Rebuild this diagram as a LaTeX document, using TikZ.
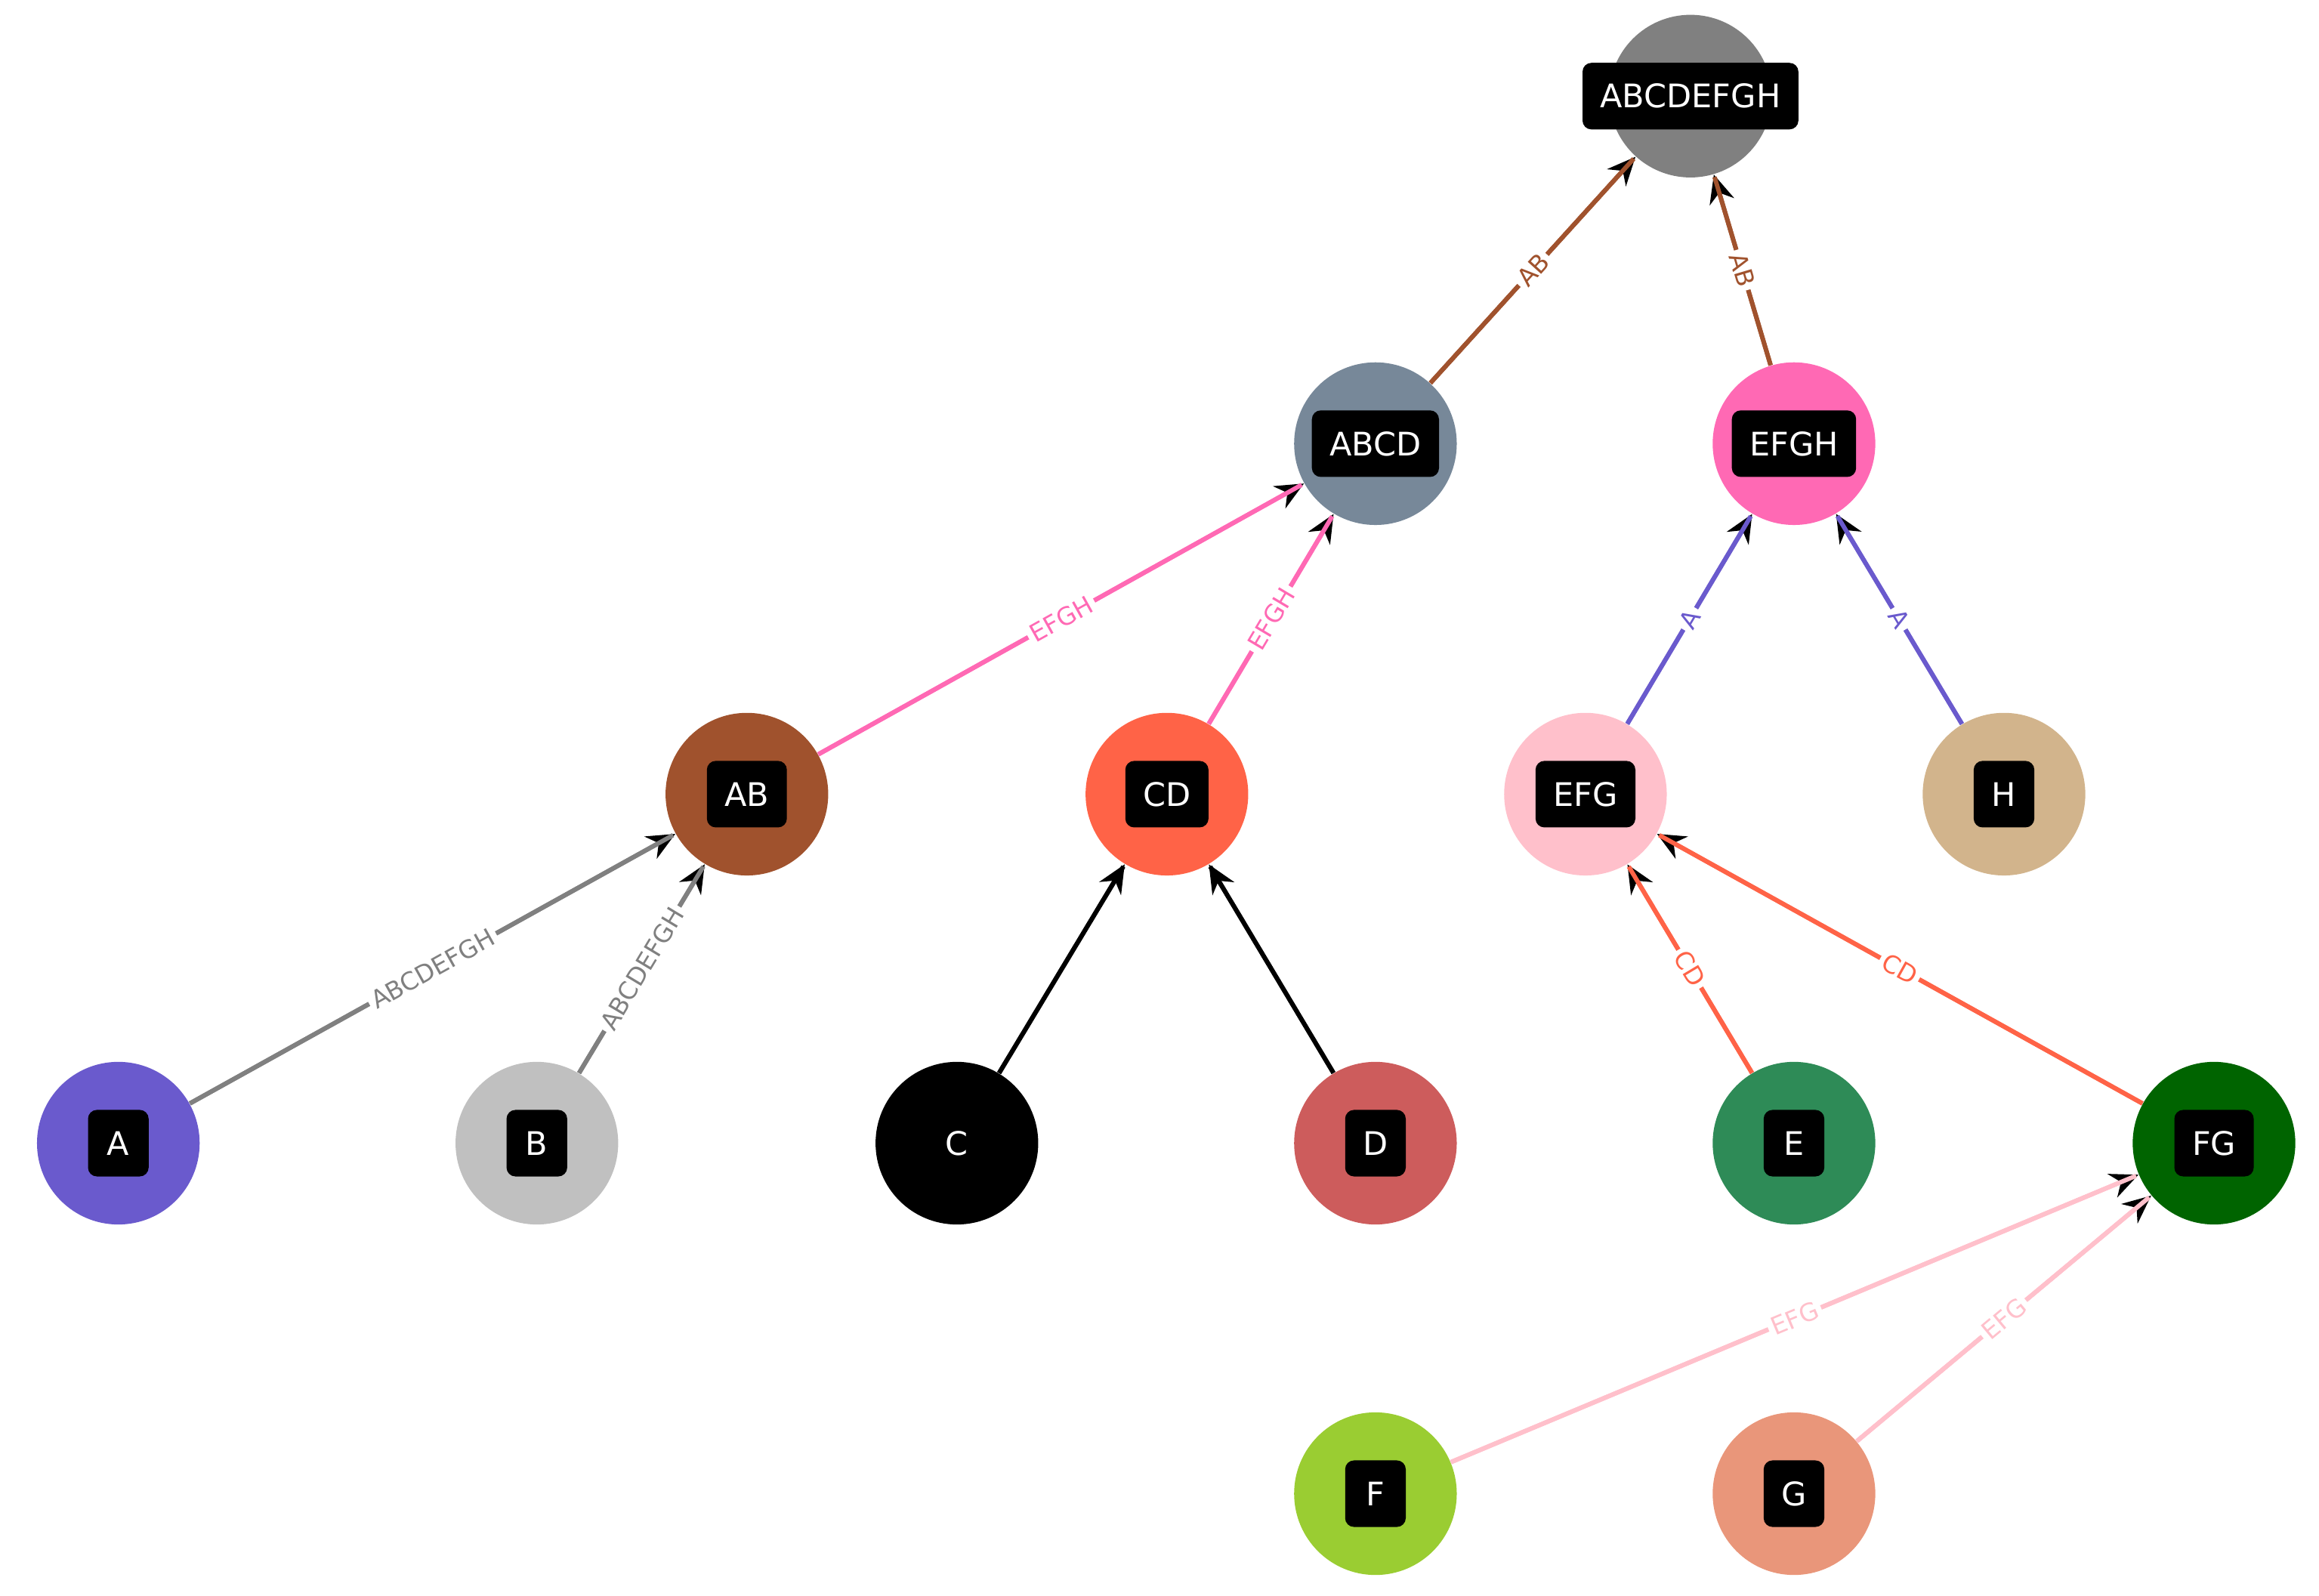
\documentclass[tikz,border=0pt]{standalone}
\usepackage{fontspec}
\setmainfont{DejaVu Sans}
\usetikzlibrary{arrows.meta}
\definecolor{cGray}{RGB}{128,128,128}
\definecolor{cSlateGray}{RGB}{119,136,153}
\definecolor{cHotPink}{RGB}{255,105,180}
\definecolor{cSienna}{RGB}{160,82,45}
\definecolor{cTomato}{RGB}{255,99,71}
\definecolor{cPink}{RGB}{255,192,203}
\definecolor{cTan}{RGB}{210,180,140}
\definecolor{cSlateBlue}{RGB}{106,90,205}
\definecolor{cSilver}{RGB}{192,192,192}
\definecolor{cIndianRed}{RGB}{205,92,92}
\definecolor{cSeaGreen}{RGB}{46,139,87}
\definecolor{cDarkGreen}{RGB}{0,100,0}
\definecolor{cYellowGreen}{RGB}{154,205,50}
\definecolor{cDarkSalmon}{RGB}{233,150,122}
\tikzset{
  nd/.style={circle,fill=#1,minimum size=2.2cm,inner sep=0pt},
  tx/.style={fill=black,text=white,rounded corners=0.12cm,font=\fontsize{12.5}{14}\selectfont,inner xsep=0.24cm,inner ysep=0.17cm,minimum height=0.9cm,minimum width=0.82cm},
  e/.style={draw=#1,line width=0.06cm,-{Stealth[length=0.38cm,width=0.34cm,black]},
    postaction={draw=#1,line width=0.06cm,-,shorten >=1pt}},
  lbl/.style={sloped,fill=white,inner sep=1.5pt,font=\fontsize{9.5}{11}\selectfont,text=#1},
}
\begin{document}
\begin{tikzpicture}[x=0.02cm,y=-0.02cm]
\useasboundingbox (0,0) rectangle (1568,1079);
\node[nd=cGray] (ABCDEFGH) at (1143,65) {};
\node[nd=cSlateGray] (ABCD) at (930,300) {};
\node[nd=cHotPink] (EFGH) at (1213,300) {};
\node[nd=cSienna] (AB) at (505,537) {};
\node[nd=cTomato] (CD) at (789,537) {};
\node[nd=cPink] (EFG) at (1072,537) {};
\node[nd=cTan] (H) at (1355,537) {};
\node[nd=cSlateBlue] (A) at (80,773) {};
\node[nd=cSilver] (B) at (363,773) {};
\node[nd=black] (C) at (647,773) {};
\node[nd=cIndianRed] (D) at (930,773) {};
\node[nd=cSeaGreen] (E) at (1213,773) {};
\node[nd=cDarkGreen] (FG) at (1497,773) {};
\node[nd=cYellowGreen] (F) at (930,1010) {};
\node[nd=cDarkSalmon] (G) at (1213,1010) {};

\draw[e=cSienna] (ABCD) -- node[lbl=cSienna]{AB} (ABCDEFGH);
\draw[e=cSienna] (EFGH) -- node[lbl=cSienna]{AB} (ABCDEFGH);
\draw[e=cHotPink] (AB) -- node[lbl=cHotPink]{EFGH} (ABCD);
\draw[e=cHotPink] (CD) -- node[lbl=cHotPink]{EFGH} (ABCD);
\draw[e=cSlateBlue] (EFG) -- node[lbl=cSlateBlue]{A} (EFGH);
\draw[e=cSlateBlue] (H) -- node[lbl=cSlateBlue]{A} (EFGH);
\draw[e=cGray] (A) -- node[lbl=cGray]{ABCDEFGH} (AB);
\draw[e=cGray] (B) -- node[lbl=cGray]{ABCDEFGH} (AB);
\draw[e=black] (C) -- (CD);
\draw[e=black] (D) -- (CD);
\draw[e=cTomato] (E) -- node[lbl=cTomato]{CD} (EFG);
\draw[e=cTomato] (FG) -- node[lbl=cTomato]{CD} (EFG);
\draw[e=cPink] (F) -- node[lbl=cPink]{EFG} (FG);
\draw[e=cPink] (G) -- node[lbl=cPink]{EFG} (FG);

\node[tx] (tABCDEFGH) at (ABCDEFGH) {ABCDEFGH};
\node[tx] (tABCD) at (ABCD) {ABCD};
\node[tx] (tEFGH) at (EFGH) {EFGH};
\node[tx] (tAB) at (AB) {AB};
\node[tx] (tCD) at (CD) {CD};
\node[tx] (tEFG) at (EFG) {EFG};
\node[tx] (tH) at (H) {H};
\node[tx] (tA) at (A) {A};
\node[tx] (tB) at (B) {B};
\node[tx] (tC) at (C) {C};
\node[tx] (tD) at (D) {D};
\node[tx] (tE) at (E) {E};
\node[tx] (tFG) at (FG) {FG};
\node[tx] (tF) at (F) {F};
\node[tx] (tG) at (G) {G};
\end{tikzpicture}
\end{document}
